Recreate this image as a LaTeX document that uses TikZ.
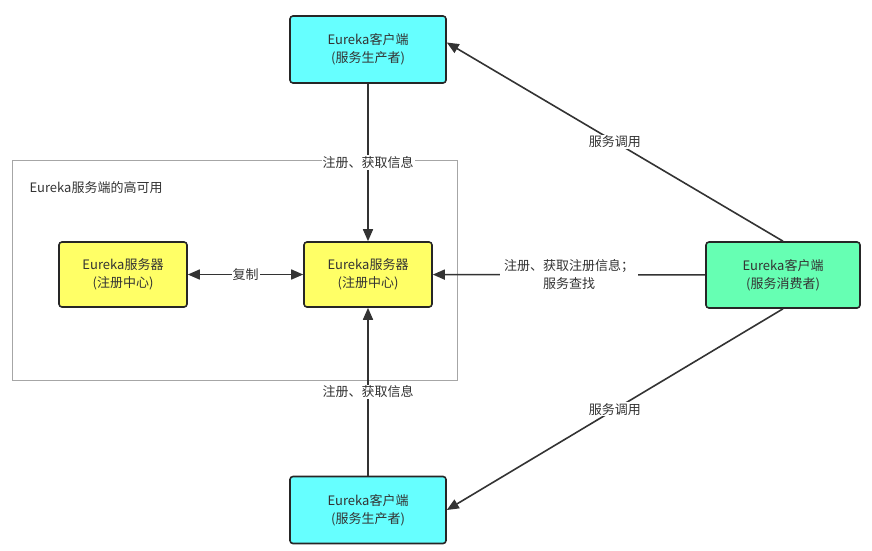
\documentclass[tikz,border=0pt]{standalone}
\usepackage{fontspec}
\setmainfont{Noto Sans CJK SC}
\usetikzlibrary{arrows.meta}
\definecolor{txt}{HTML}{333333}
\definecolor{cyanfill}{HTML}{66FFFF}
\definecolor{yelfill}{HTML}{FFFF66}
\definecolor{grnfill}{HTML}{66FFB3}
\definecolor{grp}{HTML}{A6A6A6}
\begin{document}
\begin{tikzpicture}[x=1pt,y=-1pt,
  every node/.style={text=txt,font=\fontsize{13}{18}\selectfont},
  box/.style={draw=black!85,line width=1.6pt,rounded corners=3pt,align=center,inner sep=0pt},
  prod/.style={box,fill=cyanfill,minimum width=156pt,minimum height=67pt},
  srv/.style={box,fill=yelfill,minimum width=128pt,minimum height=65pt},
  cons/.style={box,fill=grnfill,minimum width=154pt,minimum height=66pt},
  arr/.style={draw=black!80,line width=1.6pt,-{Triangle[length=12pt,width=10pt]}},
  darr/.style={draw=black!80,line width=1.6pt,{Triangle[length=12pt,width=10pt]}-{Triangle[length=12pt,width=10pt]}},
  lbl/.style={fill=white,inner sep=1pt,align=center}]
\useasboundingbox (0,0) rectangle (872,550);
\draw[grp,line width=0.8pt] (12,160) rectangle (457,380);
\node[anchor=west] (grplabel) at (26,188) {Eureka服务端的高可用};
\node[prod] (top) at (368,49.5) {Eureka客户端\\(服务生产者)};
\node[prod] (bot) at (368,510) {Eureka客户端\\(服务生产者)};
\node[srv] (left) at (123,274.5) {Eureka服务器\\(注册中心)};
\node[srv] (mid) at (368,274.5) {Eureka服务器\\(注册中心)};
\node[cons] (con) at (783,275) {Eureka客户端\\(服务消费者)};
\draw[arr] (top) -- node[lbl] {注册、获取信息} (mid);
\draw[arr] (bot) -- node[lbl] {注册、获取信息} (mid);
\draw[darr] (left) -- node[lbl] {复制} (mid);
\draw[arr] (con) -- node[lbl,inner xsep=4pt] {注册、获取注册信息；\\服务查找} (mid);
\draw[arr] (con.north) -- node[lbl] {服务调用} ([yshift=7pt]top.east);
\draw[arr] (con.south) -- node[lbl] {服务调用} (bot.east);
\end{tikzpicture}
\end{document}
